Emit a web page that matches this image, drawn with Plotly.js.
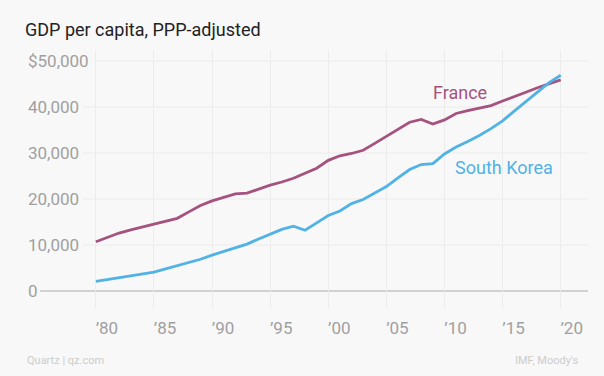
<!DOCTYPE html>
<html>
<head>
<meta charset="utf-8">
<script src="https://cdn.plot.ly/plotly-3.0.1.min.js"></script>
<style>html,body{margin:0;padding:0;background:#f8f8f8;}#chart{width:604px;height:376px;}</style>
</head>
<body>
<div id="chart"></div>
<script>
const years = [1980,1981,1982,1983,1984,1985,1986,1987,1988,1989,1990,1991,1992,1993,1994,1995,1996,1997,1998,1999,2000,2001,2002,2003,2004,2005,2006,2007,2008,2009,2010,2011,2012,2013,2014,2015,2016,2017,2018,2019,2020];
const france = [10700,11700,12600,13300,13900,14500,15100,15800,17200,18600,19600,20400,21100,21300,22200,23000,23700,24500,25600,26700,28400,29400,29900,30600,32100,33600,35100,36700,37300,36300,37200,38600,39200,39700,40300,41300,42200,43200,44200,45000,45900];
const southKorea = [2100,2500,2900,3300,3700,4100,4800,5500,6300,6900,7800,8600,9300,10200,11300,12400,13400,14100,13200,14800,16400,17400,19000,19900,21300,22700,24600,26400,27500,27700,29800,31300,32500,33800,35300,37000,39100,41200,43300,45300,46900];
const xTickVals = [1980,1985,1990,1995,2000,2005,2010,2015,2020];
const xTickText = ["’80","’85","’90","’95","’00","’05","’10","’15","’20"];
const yTickVals = [0,10000,20000,30000,40000,50000];
const yTickText = ["0","10,000","20,000","30,000","40,000","$50,000"];

const purple = "#a5527f";
const blue = "#51b2e5";

const traces = [
  {x: years, y: france, type: "scatter", mode: "lines", name: "France",
   line: {color: purple, width: 2.8}, hoverinfo: "skip"},
  {x: years, y: southKorea, type: "scatter", mode: "lines", name: "South Korea",
   line: {color: blue, width: 2.8}, hoverinfo: "skip"}
];

// horizontal gridlines start just after each tick label
const gridStart = {0: 0.027, 10000: 0.103, 20000: 0.103, 30000: 0.103, 40000: 0.103, 50000: 0.124};
const shapes = yTickVals.map(v => ({
  type: "line", layer: "below", xref: "paper", yref: "y",
  x0: gridStart[v], x1: 1, y0: v, y1: v,
  line: {color: v === 0 ? "#c4c4c4" : "#ececec", width: v === 0 ? 1.5 : 1}
}));

const layout = {
  width: 604, height: 376,
  paper_bgcolor: "#f8f8f8", plot_bgcolor: "#f8f8f8",
  margin: {l: 25, r: 16, t: 50, b: 68},
  showlegend: false,
  font: {family: "Roboto, 'Open Sans', sans-serif", color: "#a0a0a0"},
  title: {text: "GDP per capita, PPP-adjusted", x: 25/604, xanchor: "left", xref: "container",
          y: 1 - 30/376, yanchor: "middle", yref: "container",
          font: {size: 18, color: "#222222", family: "Roboto, sans-serif"}},
  xaxis: {range: [1973.9, 2022.35], tickvals: xTickVals, ticktext: xTickText,
          showgrid: true, gridcolor: "#ececec", gridwidth: 1, zeroline: false,
          showline: false, ticks: "", tickfont: {size: 17, color: "#a0a0a0"},
          ticklabelshift: 11, ticklabelstandoff: 8, fixedrange: true},
  yaxis: {range: [-3700, 52400], tickvals: yTickVals, ticktext: yTickText,
          showgrid: false, zeroline: false, showline: false, ticks: "",
          ticklabelposition: "inside", tickfont: {size: 17, color: "#a0a0a0"},
          fixedrange: true},
  shapes: shapes,
  annotations: [
    {text: "France", xref: "x", yref: "y", x: 2011.3, y: 43200, showarrow: false,
     font: {size: 18, color: purple}, xanchor: "center", yanchor: "middle"},
    {text: "South Korea", xref: "x", yref: "y", x: 2015.1, y: 26800, showarrow: false,
     font: {size: 18, color: blue}, xanchor: "center", yanchor: "middle"},
    {text: "Quartz | qz.com", xref: "paper", yref: "paper", x: 0, y: -0.2016,
     xanchor: "left", yanchor: "middle", showarrow: false, font: {size: 11, color: "#cccccc"}},
    {text: "IMF, Moody's", xref: "paper", yref: "paper", x: 0.985, y: -0.2016,
     xanchor: "right", yanchor: "middle", showarrow: false, font: {size: 11, color: "#cccccc"}}
  ]
};

Plotly.newPlot("chart", traces, layout, {staticPlot: true, displayModeBar: false});
</script>
</body>
</html>
